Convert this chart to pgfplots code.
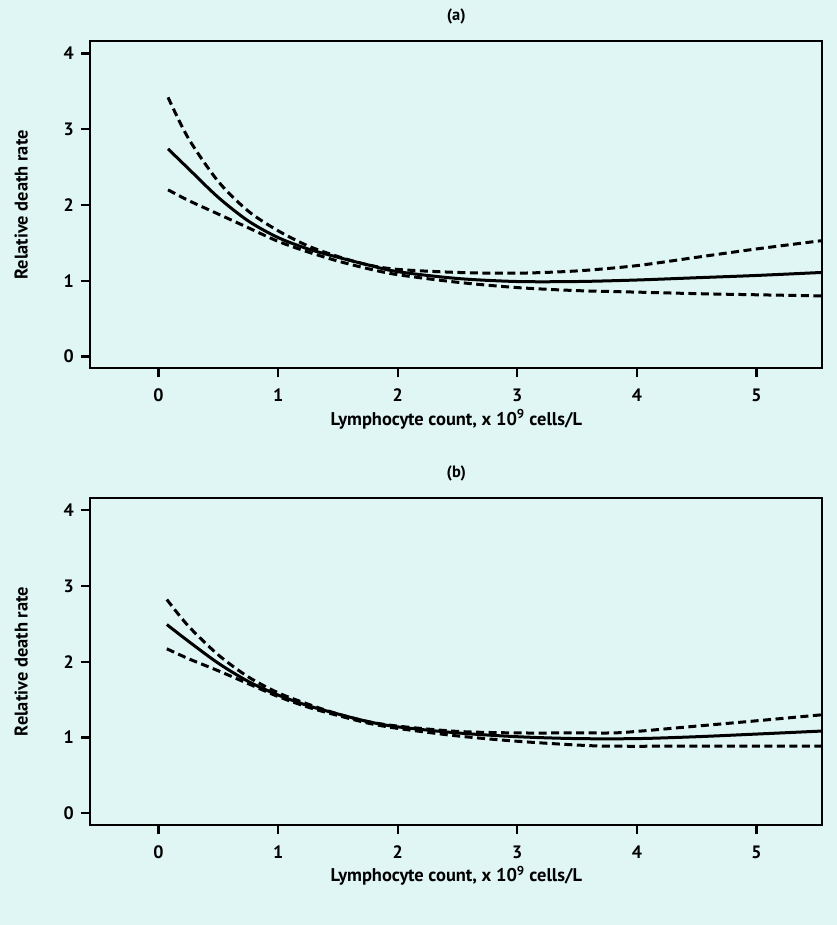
\documentclass[border=0pt]{standalone}
\usepackage{fontspec}
\setmainfont{PT Sans}
\usepackage{pgfplots}
\pgfplotsset{compat=1.18}
\definecolor{bgc}{HTML}{E0F6F4}

\pgfplotsset{
  panel/.style={
    scale only axis, width=732bp, height=327bp, anchor=south west,
    xmin=-0.57, xmax=5.55, ymin=-0.155, ymax=4.16,
    xtick={0,...,5}, ytick={0,...,4},
    xtick pos=bottom, ytick pos=left,
    tick align=outside, major tick length=9bp,
    axis line style={line width=2.3bp},
    tick style={line width=2.3bp, black},
    /pgf/number format/assume math mode=true,
    tick label style={font=\bfseries\fontsize{18}{20}\selectfont},
    xticklabel style={yshift=-8bp},
    yticklabel style={xshift=-4bp},
    label style={font=\bfseries\fontsize{18.5}{21}\selectfont},
    title style={font=\bfseries\fontsize{16.5}{19}\selectfont,
      at={(axis description cs:0.5,1)}, anchor=center, yshift=19bp},
    xlabel style={at={(axis description cs:0.5,0)}, anchor=center, yshift=-51bp},
    ylabel style={at={(axis description cs:0,0.5)}, anchor=center, yshift=69bp},
    xlabel={Lymphocyte count, x 10\textsuperscript{9} cells/L},
    ylabel={Relative death rate},
  },
  est/.style={black, line width=3bp, smooth},
  ci/.style={black, line width=3bp, smooth, dash pattern=on 8bp off 4.5bp},
}

\begin{document}
\begin{tikzpicture}
\path[use as bounding box, fill=bgc] (0,0) rectangle (837bp,925bp);

% panel (a)
\begin{axis}[panel, at={(90.3bp,556.7bp)}, title={(a)}]
  \addplot[ci] coordinates {(0.08,3.42) (0.25,2.88) (0.5,2.31) (0.75,1.92) (1.0,1.66)
    (1.25,1.46) (1.5,1.32) (1.75,1.21) (2.0,1.15) (2.5,1.11) (3.0,1.10) (3.5,1.13)
    (4.0,1.20) (4.5,1.31) (5.0,1.42) (5.55,1.53)};
  \addplot[est] coordinates {(0.08,2.74) (0.25,2.48) (0.5,2.10) (0.75,1.79) (1.0,1.57)
    (1.25,1.42) (1.5,1.31) (1.75,1.21) (2.0,1.12) (2.5,1.03) (3.0,0.99) (3.5,0.99)
    (4.0,1.01) (4.5,1.04) (5.0,1.07) (5.55,1.11)};
  \addplot[ci] coordinates {(0.08,2.20) (0.25,2.06) (0.5,1.88) (0.75,1.70) (1.0,1.52)
    (1.25,1.38) (1.5,1.26) (1.75,1.16) (2.0,1.08) (2.5,0.98) (3.0,0.91) (3.5,0.87)
    (4.0,0.85) (4.5,0.83) (5.0,0.815) (5.55,0.80)};
\end{axis}

% panel (b)
\begin{axis}[panel, at={(90.3bp,100bp)}, title={(b)}]
  \addplot[ci] coordinates {(0.07,2.82) (0.25,2.47) (0.5,2.09) (0.75,1.80) (1.0,1.59)
    (1.25,1.44) (1.5,1.31) (1.75,1.21) (2.0,1.15) (2.5,1.08) (3.0,1.06) (3.5,1.06)
    (3.8,1.06) (4.0,1.08) (4.5,1.15) (5.0,1.22) (5.55,1.30)};
  \addplot[est] coordinates {(0.07,2.49) (0.25,2.27) (0.5,1.98) (0.75,1.74) (1.0,1.56)
    (1.25,1.42) (1.5,1.31) (1.75,1.21) (2.0,1.14) (2.5,1.06) (3.0,1.01) (3.5,0.985)
    (4.0,0.985) (4.5,1.01) (5.0,1.045) (5.55,1.085)};
  \addplot[ci] coordinates {(0.07,2.17) (0.25,2.04) (0.5,1.88) (0.75,1.71) (1.0,1.54)
    (1.25,1.40) (1.5,1.29) (1.75,1.19) (2.0,1.12) (2.5,1.02) (3.0,0.95) (3.5,0.90)
    (3.8,0.885) (4.5,0.885) (5.55,0.885)};
\end{axis}
\end{tikzpicture}
\end{document}
